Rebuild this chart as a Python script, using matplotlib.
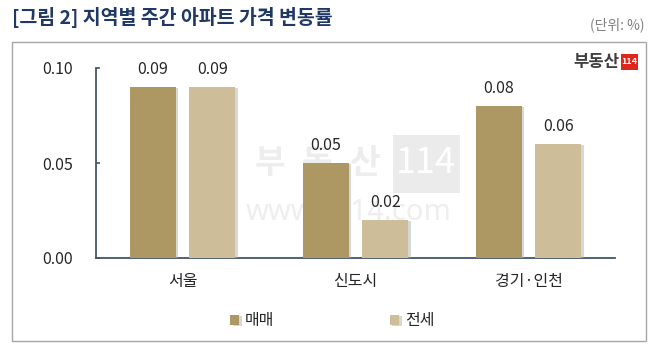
import matplotlib
matplotlib.use("Agg")
import matplotlib.pyplot as plt
import matplotlib.patheffects as pe
from matplotlib.patches import Rectangle
import numpy as np

plt.rcParams['font.family'] = ['Noto Sans CJK KR', 'DejaVu Sans']

categories = ["서울", "신도시", "경기·인천"]
series_names = ["매매", "전세"]
sale = [0.09, 0.05, 0.08]
jeonse = [0.09, 0.02, 0.06]
yticks = [0.00, 0.05, 0.10]
ytick_labels = ["0.00", "0.05", "0.10"]
title = "[그림 2] 지역별 주간 아파트 가격 변동률"
unit = "(단위: %)"

c_sale = "#AD9864"
c_jeonse = "#CDBD98"
axis_c = "#44546A"
txt_c = "#262626"

W, H = 659, 350
fig = plt.figure(figsize=(W/100, H/100), dpi=100)

def fx(px):
    return px / W

def fy(py):
    return 1 - py / H

# outer frame
fig.patches.append(Rectangle((fx(12), fy(341)), (646-12)/W, (341-42)/H,
                             transform=fig.transFigure, fill=False,
                             edgecolor="#A6A6A6", lw=1.0))

fig.text(fx(12), fy(17), title, fontsize=14, fontweight='bold',
         color="#1F3864", va='center', ha='left')
fig.text(fx(645), fy(25), unit, fontsize=10, color="#7F7F7F",
         va='center', ha='right')

# logo
fig.text(fx(619), fy(62), "부동산", fontsize=12, fontweight='heavy',
         color="#404040", va='center', ha='right')
fig.patches.append(Rectangle((fx(621), fy(70)), 17/W, 16/H, transform=fig.transFigure,
                             fc="#E0251B", ec='none'))
fig.text(fx(629.5), fy(62), "114", fontsize=6.5, fontweight='bold',
         color="white", va='center', ha='center')

# watermark (behind the axes)
wm_c = "#EDEDED"
for ch, cx in zip("부동산", [270, 317, 364]):
    fig.text(fx(cx), fy(163), ch, fontsize=24, fontweight='heavy',
             color=wm_c, va='center', ha='center', zorder=-2)
fig.patches.append(Rectangle((fx(393), fy(193)), 67/W, 58/H, transform=fig.transFigure,
                             fc="#EBEBEB", ec='none', zorder=-3))
fig.text(fx(426), fy(163), "114", fontsize=26, color="white",
         va='center', ha='center', zorder=-2)
fig.text(fx(349), fy(213), "www.r114.com", fontsize=21, family=['Noto Sans', 'DejaVu Sans'],
         color="#EEEEEE", va='center', ha='center', zorder=-2)

ax = fig.add_axes([fx(96), fy(258), 519/W, 190/H])
ax.patch.set_alpha(0)
x = np.arange(len(categories))
w = 0.265
off = 0.172
shadow = [pe.SimplePatchShadow(offset=(2, -1), shadow_rgbFace='#B0B0B0', alpha=0.5), pe.Normal()]
b1 = ax.bar(x - off, sale, w, color=c_sale, label=series_names[0], zorder=3)
b2 = ax.bar(x + off, jeonse, w, color=c_jeonse, label=series_names[1], zorder=3)
for b in list(b1) + list(b2):
    b.set_path_effects(shadow)
for xi, v in zip(x - off, sale):
    ax.text(xi, v + 0.0045, f"{v:.2f}", ha='center', va='bottom', fontsize=11.5, color=txt_c)
for xi, v in zip(x + off, jeonse):
    ax.text(xi, v + 0.0045, f"{v:.2f}", ha='center', va='bottom', fontsize=11.5, color=txt_c)

ax.set_xlim(-0.5, 2.5)
ax.set_ylim(0, 0.10)
ax.set_yticks(yticks)
ax.set_yticklabels(ytick_labels, fontsize=11.5, color=txt_c)
ax.set_xticks(x)
ax.set_xticklabels(categories, fontsize=11.5, color=txt_c)
ax.tick_params(axis='x', length=0, pad=11)
ax.tick_params(axis='y', direction='in', length=3, width=1.2, color=axis_c, pad=16.5)
for s in ['top', 'right']:
    ax.spines[s].set_visible(False)
for s in ['left', 'bottom']:
    ax.spines[s].set_color(axis_c)
    ax.spines[s].set_linewidth(1.3)

leg = fig.legend(handles=[b1, b2], labels=series_names, loc='center',
                 bbox_to_anchor=(fx(332), fy(321)), ncol=2, frameon=False,
                 fontsize=11.5, handlelength=0.6, handleheight=0.6,
                 columnspacing=7.2, handletextpad=0.35)
for t in leg.get_texts():
    t.set_color(txt_c)

fig.savefig("out.png", dpi=100)
